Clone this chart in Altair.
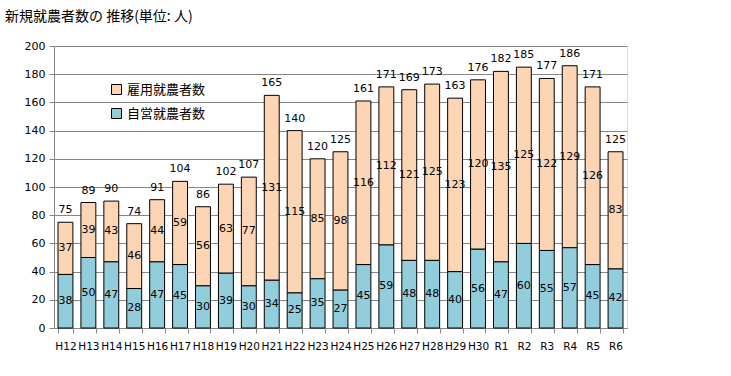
import altair as alt
import pandas as pd

years = ["H12", "H13", "H14", "H15", "H16", "H17", "H18", "H19", "H20", "H21",
         "H22", "H23", "H24", "H25", "H26", "H27", "H28", "H29", "H30", "R1",
         "R2", "R3", "R4", "R5", "R6"]
self_employed = [38, 50, 47, 28, 47, 45, 30, 39, 30, 34, 25, 35, 27, 45, 59,
                 48, 48, 40, 56, 47, 60, 55, 57, 45, 42]
employed = [37, 39, 43, 46, 44, 59, 56, 63, 77, 131, 115, 85, 98, 116, 112,
            121, 125, 123, 120, 135, 125, 122, 129, 126, 83]
y_ticks = [0, 20, 40, 60, 80, 100, 120, 140, 160, 180, 200]

S_SELF = "自営就農者数"
S_EMP = "雇用就農者数"

rows = []
for y, s, e in zip(years, self_employed, employed):
    rows.append({"year": y, "series": S_SELF, "value": s, "ord": 0})
    rows.append({"year": y, "series": S_EMP, "value": e, "ord": 1})
df = pd.DataFrame(rows)

NUM_FONT = "DejaVu Sans"
JP_FONT = "Noto Sans CJK JP"
GRID = "#868686"

x_scale = alt.Scale(paddingInner=0.35, paddingOuter=0.175)
x_axis = alt.Axis(title=None, labelAngle=0, tickBand="extent", labelFont=NUM_FONT,
                  labelFontSize=10.5, labelColor="#000000", domainColor=GRID,
                  tickColor=GRID, tickSize=5, labelPadding=8, grid=False,
                  labelOverlap=False)
y_scale = alt.Scale(domain=[0, 200], nice=False)
y_axis = alt.Axis(title=None, values=y_ticks, grid=True,
                  gridColor=GRID, gridOpacity=1, domainColor=GRID, tickColor=GRID,
                  tickSize=5, labelFont=NUM_FONT, labelFontSize=11,
                  labelColor="#000000", labelPadding=4, labelOverlap=False)


def xe():
    return alt.X("year:N", sort=years, scale=x_scale, axis=x_axis)


base = alt.Chart(df)

bars = base.mark_bar(stroke="black", strokeWidth=1, opacity=1).encode(
    x=xe(),
    y=alt.Y("value:Q", stack="zero", scale=y_scale, axis=y_axis),
    color=alt.Color(
        "series:N",
        scale=alt.Scale(domain=[S_EMP, S_SELF], range=["#FCD5B5", "#92CDDC"]),
        legend=alt.Legend(
            title=None, orient="none", legendX=56, legendY=37, padding=0,
            symbolType="square", symbolSize=100, symbolStrokeColor="black",
            symbolStrokeWidth=1, symbolOpacity=1, labelFont=JP_FONT,
            labelFontSize=13, labelColor="#000000", rowPadding=9, labelOffset=4,
        ),
    ),
    order=alt.Order("ord:Q"),
)

seg_labels = base.transform_stack(
    stack="value", groupby=["year"], as_=["y0", "y1"],
    sort=[alt.SortField("ord", order="ascending")],
).transform_calculate(
    mid="(datum.y0 + datum.y1) / 2"
).mark_text(font=NUM_FONT, fontSize=11, color="#000000", baseline="middle").encode(
    x=xe(),
    y=alt.Y("mid:Q", scale=y_scale, axis=y_axis),
    text=alt.Text("value:Q"),
)

tot_labels = base.transform_aggregate(
    total="sum(value)", groupby=["year"]
).mark_text(font=NUM_FONT, fontSize=11, color="#000000", baseline="middle", dy=-12).encode(
    x=xe(),
    y=alt.Y("total:Q", scale=y_scale, axis=y_axis),
    text=alt.Text("total:Q"),
)

chart = alt.layer(bars, seg_labels, tot_labels).properties(
    width=573, height=282,
    autosize=alt.AutoSizeParams(type="none"),
    padding={"left": 54, "top": 46, "right": 104, "bottom": 48},
    title=alt.TitleParams("新規就農者数の 推移(単位: 人)", anchor="start", frame="group",
                          dx=-49, offset=16, font=JP_FONT, fontSize=14,
                          fontWeight="normal", color="#000000"),
).configure_view(stroke=None).configure(background="white")

chart.save("out.html", embed_options={"renderer": "svg", "actions": False})
